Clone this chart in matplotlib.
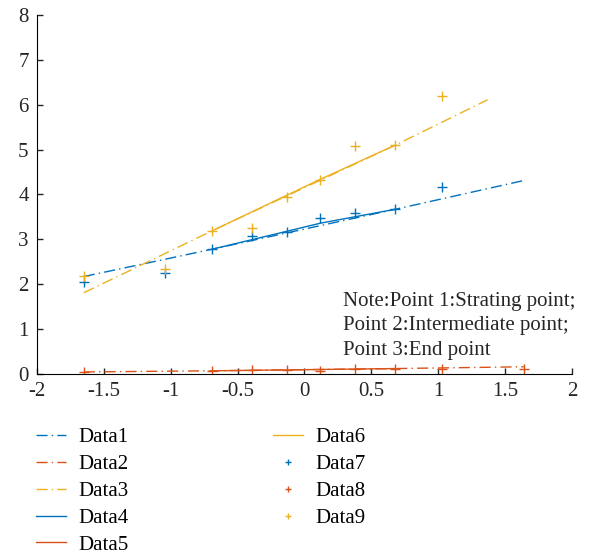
import numpy as np
import matplotlib
matplotlib.use("Agg")
from matplotlib import pyplot as plt

plt.rcParams['font.family'] = ['Liberation Serif', 'DejaVu Serif']
plt.rcParams['font.size'] = 15

blue = '#0072BD'
orange = '#D95319'
yellow = '#EDB120'

# measured points (x is shared by the three point series)
x_pts = [-1.65, -1.04, -0.69, -0.39, -0.13, 0.12, 0.38, 0.68, 1.03]
data7 = [2.06, 2.26, 2.78, 3.08, 3.16, 3.47, 3.59, 3.67, 4.17]
x_pts8 = [-1.65, -0.69, -0.39, -0.13, 0.12, 0.38, 0.68, 1.03, 1.64]
data8 = [0.04, 0.07, 0.08, 0.08, 0.07, 0.10, 0.12, 0.12, 0.12]
data9 = [2.19, 2.33, 3.19, 3.26, 3.94, 4.33, 5.07, 5.10, 6.19]

# fitted lines (dash-dot = extrapolated, solid = fitted range)
x_fit1 = [-1.65, -0.69, 0.68, 1.64]
data1 = [2.17, 2.78, 3.67, 4.31]
x_fit2 = [-1.65, -0.69, 0.68, 1.64]
data2 = [0.045, 0.07, 0.12, 0.16]
x_fit3 = [-1.65, -0.69, 0.68, 1.37]
data3 = [1.81, 3.19, 5.10, 6.11]
x_fit4 = [-0.69, -0.13, 0.12, 0.68]
data4 = [2.78, 3.18, 3.36, 3.67]
x_fit5 = [-0.69, 0.68]
data5 = [0.07, 0.12]
x_fit6 = [-0.69, 0.12, 0.68]
data6 = [3.19, 4.34, 5.10]

fig = plt.figure(figsize=(5.91, 5.54), dpi=100)
ax = fig.add_axes([0.0626, 0.325, 0.905, 0.648])

dd = (0, (8, 3, 1, 3))
l1, = ax.plot(x_fit1, data1, color=blue, lw=1, linestyle=dd, label='Data1')
l2, = ax.plot(x_fit2, data2, color=orange, lw=1, linestyle=dd, label='Data2')
l3, = ax.plot(x_fit3, data3, color=yellow, lw=1, linestyle=dd, label='Data3')
l4, = ax.plot(x_fit4, data4, color=blue, lw=1, label='Data4')
l5, = ax.plot(x_fit5, data5, color=orange, lw=1, label='Data5')
l6, = ax.plot(x_fit6, data6, color=yellow, lw=1, label='Data6')
l7, = ax.plot(x_pts, data7, '+', color=blue, ms=7, mew=1, label='Data7')
l8, = ax.plot(x_pts8, data8, '+', color=orange, ms=7, mew=1, label='Data8')
l9, = ax.plot(x_pts, data9, '+', color=yellow, ms=7, mew=1, label='Data9')

ax.set_xlim(-2, 2)
ax.set_ylim(0, 8)
ax.set_xticks([-2, -1.5, -1, -0.5, 0, 0.5, 1, 1.5, 2])
ax.set_xticklabels(['-2', '-1.5', '-1', '-0.5', '0', '0.5', '1', '1.5', '2'])
ax.set_yticks(range(0, 9))
ax.spines['top'].set_visible(False)
ax.spines['right'].set_visible(False)
ax.tick_params(direction='in', length=4, width=1, pad=6, colors='#262626', labelcolor='#262626')

ax.text(0.572, 0.228, 'Note:Point 1:Strating point;\nPoint 2:Intermediate point;\nPoint 3:End point',
        transform=ax.transAxes, ha='left', va='top', linespacing=1.38, color='#262626')

fig.legend(handles=[l1, l2, l3, l4, l5, l6, l7, l8, l9], ncol=2, frameon=False,
           loc='upper left', bbox_to_anchor=(0.029, 0.262), handlelength=1.45,
           columnspacing=6.9, labelspacing=0.35, handletextpad=0.6, markerscale=0.6)

fig.savefig('out.png', dpi=100)
